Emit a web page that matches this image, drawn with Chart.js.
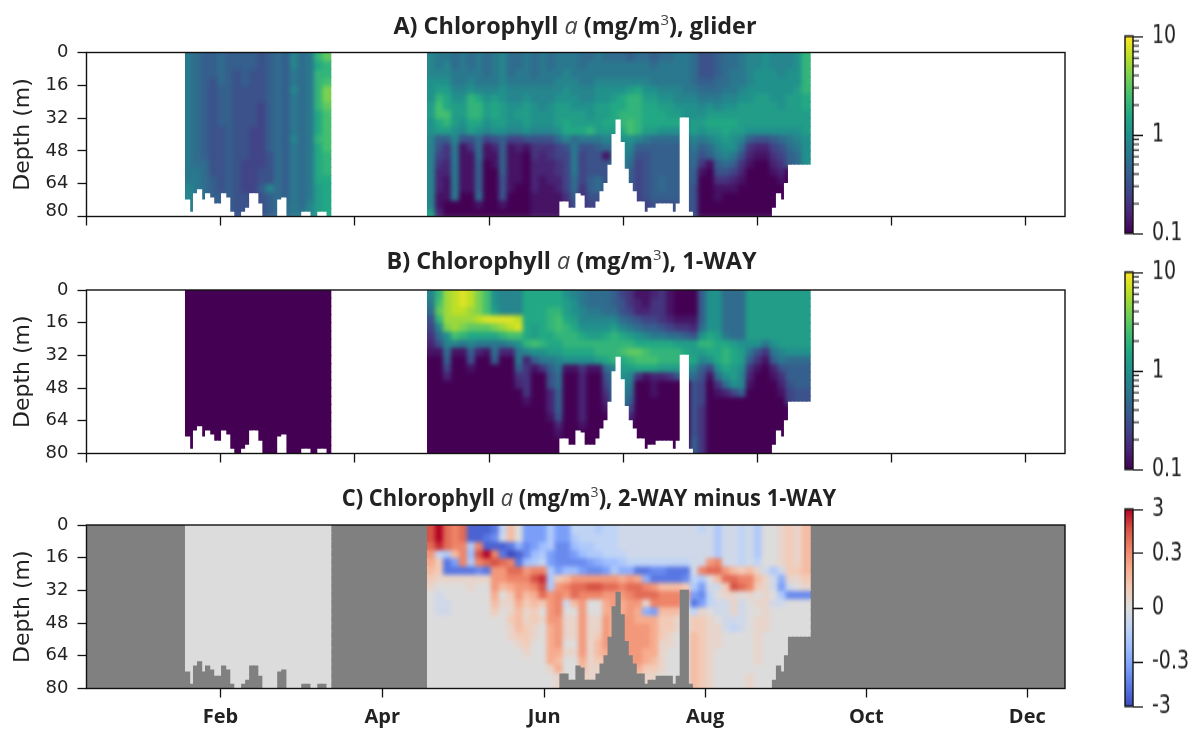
<!DOCTYPE html>
<html>
<head>
<meta charset="utf-8">
<script src="https://cdn.jsdelivr.net/npm/chart.js@4"></script>
<style>
    html, body { margin: 0; padding: 0; background: #fff; }
    body { position: relative; width: 1200px; height: 729px; overflow: hidden; }
    canvas { position: absolute; filter: blur(0.5px); }
    canvas.bar { transform: scaleY(1.35); transform-origin: top left; }
    .title { position: absolute; transform: translateX(-50%); font: bold 23.4px/30px "Open Sans", sans-serif; color: #222; white-space: nowrap; filter: blur(0.4px); }
    .title i { font-weight: 400; color: #444; }
    .title sup { font-size: 15px; font-weight: 400; line-height: 0; color: #444; }
</style>
</head>
<body>
<div class="title" style="left:575px;top:10px">A) Chlorophyll <i>a</i> (mg/m<sup>3</sup>), glider</div>
<div class="title" style="left:571.5px;top:245px">B) Chlorophyll <i>a</i> (mg/m<sup>3</sup>), 1-WAY</div>
<div class="title" style="left:588.5px;top:482px;transform:translateX(-50%) scaleX(0.936)">C) Chlorophyll <i>a</i> (mg/m<sup>3</sup>), 2-WAY minus 1-WAY</div>
<canvas id="panelA" width="1100" height="203" style="left:0;top:38px"></canvas>
<canvas id="panelB" width="1100" height="203" style="left:0;top:276px"></canvas>
<canvas id="panelC" width="1100" height="218" style="left:0;top:511px"></canvas>
<canvas id="barA" class="bar" width="85" height="170" style="left:1115px;top:19.8px"></canvas>
<canvas id="barB" class="bar" width="85" height="170" style="left:1115px;top:255.8px"></canvas>
<canvas id="barC" class="bar" width="85" height="170" style="left:1115px;top:492.8px"></canvas>
<script>
// depth bands are 4 m thick, rows run from the surface down
const depthTicks = [0, 16, 32, 48, 64, 80];
const bandDepths = [0, 4, 8, 12, 16, 20, 24, 28, 32, 36, 40, 44, 48, 52, 56, 60, 64, 68, 72, 76];
const xTicksTop = [0, 50.2, 100.4, 150.6, 200.8, 251, 301.2, 351.4];
const xTicksBottom = [50.1, 110.6, 171.2, 231.4, 291.7, 351.9];
const monthLabels = ["Feb", "Apr", "Jun", "Aug", "Oct", "Dec"];
const chlTicks = [0.1, 1, 10];
const chlMinorTicks = [0.2, 0.3, 0.4, 0.5, 0.6, 0.7, 0.8, 0.9, 2, 3, 4, 5, 6, 7, 8, 9];
const diffTicks = [-10, -5.5, 0, 5.5, 10];
const diffLabels = ["-3", "-0.3", "0", "0.3", "3"];

// chlorophyll: tenths of a decade above 0.1 mg/m3 (0 = 0.1, 10 = 1, 20 = 10)
const gliderWinter = [
    [8,7,6,6,7,6,6,6,6,5,6,7,6,9,7,8,13,15],
    [8,7,6,6,7,6,6,6,6,5,6,7,6,9,7,8,12,13],
    [8,7,6,6,7,6,5,6,5,5,6,7,6,8,7,8,13,13],
    [8,7,6,5,7,6,5,6,5,5,6,7,6,8,7,8,13,14],
    [8,7,6,5,6,6,5,5,5,5,6,7,6,9,7,8,13,16],
    [8,7,6,5,6,6,5,5,5,5,6,7,6,8,7,8,13,16],
    [8,7,6,5,6,6,5,5,5,4,6,7,6,8,7,8,13,15],
    [8,7,6,5,6,6,5,5,5,4,6,7,6,8,7,8,12,14],
    [8,7,6,5,6,6,5,5,5,4,6,7,6,8,7,8,12,14],
    [8,7,6,5,5,6,5,5,4,4,6,7,6,8,7,8,12,14],
    [8,7,6,5,5,6,5,5,4,4,6,7,6,9,7,8,13,14],
    [8,7,6,5,5,6,5,5,4,4,6,7,6,8,7,8,12,14],
    [8,7,6,5,5,6,5,5,4,4,5,7,6,8,7,8,12,13],
    [8,7,7,5,5,6,5,4,4,4,5,7,6,8,7,8,12,13],
    [8,8,7,5,5,6,5,4,4,5,5,7,6,8,7,8,12,13],
    [8,8,7,6,5,6,5,4,4,5,5,7,6,8,7,8,12,12],
    [9,8,7,6,5,6,5,4,4,6,9,7,6,8,7,8,11,12],
    [9,8,7,6,6,6,5,5,4,5,6,7,6,8,7,8,11,12],
    [9,8,7,6,6,6,5,5,5,5,6,7,7,8,7,9,11,12],
    [9,8,7,6,6,6,5,5,5,5,6,7,7,8,8,9,11,12]
];
const gliderSpring = [
    [9,8,8,7,8,7,8,7,8,9,7,7, 8,7,8,7,8,8,8,7,7,8,7,7, 7,6,7,7,6,7,7,8,8,7,5,5, 6,7,7,8,9,9,10,9,9,9,10,13],
    [9,8,9,7,8,7,8,7,8,9,7,7, 8,7,8,7,8,8,8,7,8,8,8,8, 8,8,8,8,7,8,8,8,8,7,5,5, 6,7,7,8,9,9,10,9,9,9,10,13],
    [9,9,9,8,8,8,8,7,8,9,7,8, 8,7,8,8,8,9,8,8,8,8,8,8, 8,8,8,8,8,8,8,8,8,7,5,5, 6,7,8,8,9,10,10,10,9,10,10,13],
    [10,10,10,8,8,9,8,8,8,9,8,8, 8,8,8,8,9,9,9,8,8,9,9,9, 9,9,9,9,8,8,8,8,8,7,6,6, 7,7,8,8,9,10,10,10,10,10,10,13],
    [10,11,11,9,9,10,9,9,9,10,9,9, 9,9,9,9,9,10,9,9,9,10,10,10, 10,11,12,10,10,9,9,9,8,8,7,7, 7,8,8,9,10,10,10,10,10,10,11,13],
    [10,13,12,10,10,13,12,10,11,10,9,9, 10,9,9,9,10,10,10,9,9,10,10,11, 12,13,13,11,11,10,10,9,9,9,8,8, 8,9,9,10,10,11,11,10,10,11,11,12],
    [11,14,12,11,11,13,13,11,12,11,10,10, 11,10,9,10,11,11,10,10,10,11,11,12, 12,13,13,12,12,11,11,10,10,10,9,10, 9,10,10,11,11,11,11,11,10,11,11,12],
    [11,14,14,11,11,13,13,11,12,11,10,11, 11,10,10,10,11,11,11,11,10,11,11,12, 13,13,13,12,12,12,11,11,10,10,10,11, 11,11,11,11,11,11,11,11,11,11,11,11],
    [10,12,13,11,10,12,12,10,11,11,10,10, 11,10,10,10,11,12,11,11,11,11,12,12, 13,14,13,12,12,12,12,12,10,11,11,12, 12,12,12,11,11,11,11,11,11,11,11,11],
    [10,11,11,10,9,11,10,9,10,10,9,9, 10,9,9,9,10,12,12,12,13,11,11,11, 12,14,13,11,11,10,10,10,10,11,10,11, 11,12,11,11,10,10,10,10,10,10,10,11],
    [9,6,6,9,5,5,7,4,5,6,4,4, 5,5,5,5,7,9,7,8,8,8,9,8, 10,10,9,8,7,7,7,7,7,9,8,9, 10,11,10,9,6,5,5,6,7,8,9,10],
    [9,5,3,8,1,3,7,1,2,6,1,2, 1,3,3,3,4,5,8,5,5,6,7,7, 9,9,6,6,6,6,6,6,6,8,6,7, 9,10,10,7,3,2,2,4,5,7,8,10],
    [9,4,3,8,1,1,7,1,1,6,1,1, 0,3,2,3,4,4,8,4,5,5,1,7, 9,8,5,5,6,6,6,6,6,7,5,6, 8,9,8,5,2,1,1,3,4,6,7,10],
    [9,3,2,8,1,1,6,0,1,6,1,1, 0,2,2,2,3,4,8,4,5,5,5,7, 9,7,4,5,6,6,6,6,6,7,3,1, 6,7,6,3,1,0,0,2,3,6,7,10],
    [9,2,2,8,1,1,6,0,0,6,1,1, 0,2,2,2,3,4,8,4,5,5,5,7, 9,6,4,5,6,6,6,6,6,6,1,0, 5,5,4,2,0,0,0,1,2,0,0,0],
    [9,2,1,8,1,1,6,0,0,5,1,1, 0,2,1,2,2,4,7,4,6,7,5,7, 8,6,4,5,6,7,6,6,6,6,0,0, 3,3,2,1,0,0,0,0,1,0,0,0],
    [9,2,1,8,1,1,6,0,0,5,1,0, 0,2,1,1,2,4,7,3,6,7,5,7, 5,6,4,5,6,7,6,6,6,5,0,0, 1,1,1,0,0,0,0,0,0,0,0,0],
    [9,1,1,8,0,0,7,0,0,5,0,0, 0,1,1,1,1,3,6,3,5,5,5,7, 5,5,4,5,6,6,6,6,6,5,0,0, 1,0,0,0,0,0,0,0,0,0,0,0],
    [9,1,0,0,0,0,1,0,0,1,0,0, 0,1,1,1,1,2,5,3,4,4,5,7, 5,5,4,4,5,5,5,5,5,5,0,0, 0,0,0,0,0,0,0,0,0,0,0,0],
    [11,2,0,0,0,0,0,0,0,0,0,0, 0,1,1,1,1,2,5,3,4,4,5,7, 5,5,4,4,5,5,5,5,5,5,0,0, 0,0,0,0,0,0,0,0,0,0,0,0]
];
const modelWinter = [0,0,0,0,0,0,0,0,0,0,0,0,0,0,0,0,0,0];
const oneWaySpring = [
    [9,13,17,18,19,18,16,14,10,9,9,9, 12,12,12,12,12,10,9,8,7,7,7,6, 4,3,1,1,2,3,1,0,0,0,6,10, 10,7,7,7,11,11,11,11,11,11,11,11],
    [8,14,17,18,19,18,16,14,10,9,9,9, 12,12,12,12,12,11,10,8,7,7,7,6, 5,3,2,1,3,3,1,0,0,0,6,10, 10,7,7,7,11,11,11,11,11,11,11,11],
    [7,15,17,18,18,17,16,14,11,9,9,9, 12,12,12,13,13,11,10,9,8,8,7,7, 5,4,2,2,3,3,1,0,0,0,6,10, 10,7,7,7,11,11,11,11,11,11,11,11],
    [5,13,17,17,17,17,18,19,19,19,19,18, 12,12,12,13,14,12,11,9,9,9,9,9, 7,6,5,4,4,3,2,1,1,1,6,10, 10,7,7,7,11,11,11,11,11,11,11,11],
    [4,9,16,17,16,15,15,15,16,17,18,19, 12,11,12,13,14,13,12,10,10,10,10,11, 9,8,7,6,6,5,4,3,3,2,7,10, 10,7,7,7,11,11,11,11,11,11,11,11],
    [3,7,10,14,13,12,12,12,12,13,14,14, 12,11,12,12,13,13,13,12,11,11,12,13, 12,11,10,9,8,8,7,7,6,5,10,12, 11,8,7,7,11,11,11,11,11,11,11,11],
    [2,5,9,9,8,9,8,8,8,8,9,10, 13,14,13,12,12,13,13,13,13,13,13,13, 13,13,12,12,12,12,12,11,11,11,13,13, 12,12,11,10,10,10,8,10,11,11,11,11],
    [1,1,7,1,1,6,2,1,7,2,2,8, 9,10,10,11,11,12,12,12,12,13,13,13, 14,15,15,14,13,13,13,13,12,11,11,12, 12,13,12,11,8,5,3,8,9,10,10,10],
    [0,0,6,0,0,5,0,0,6,0,0,8, 2,6,8,8,9,10,10,10,10,11,12,13, 12,13,14,14,14,13,13,13,12,12,9,10, 12,13,12,11,6,3,1,6,8,7,7,7],
    [0,0,4,0,0,1,0,0,0,0,0,6, 3,1,3,6,8,1,1,3,1,1,7,9, 11,11,12,12,12,11,11,11,10,9,6,4, 10,12,11,10,3,1,0,2,5,6,6,6],
    [0,0,2,0,0,0,0,0,0,0,0,3, 3,0,0,5,7,0,0,2,0,0,5,8, 10,9,3,1,2,2,3,5,7,7,5,1, 7,10,11,9,2,0,0,1,3,6,6,6],
    [0,0,0,0,0,0,0,0,0,0,0,2, 3,0,0,5,7,0,0,2,0,0,4,8, 10,8,0,0,1,0,0,0,0,5,4,0, 3,7,10,9,1,0,0,0,2,5,6,6],
    [0,0,0,0,0,0,0,0,0,0,0,0, 3,0,0,2,6,0,0,2,0,0,3,8, 9,7,0,0,1,0,0,0,0,5,4,0, 1,2,4,6,0,0,0,0,1,4,5,5],
    [0,0,0,0,0,0,0,0,0,0,0,0, 1,0,0,2,6,0,0,2,0,0,2,8, 8,6,0,0,0,0,0,0,0,5,4,0, 0,0,0,0,0,0,0,0,0,4,5,5],
    [0,0,0,0,0,0,0,0,0,0,0,0, 0,0,0,2,6,0,0,2,0,0,1,7, 7,4,0,0,0,0,0,0,0,5,3,0, 0,0,0,0,0,0,0,0,0,0,0,0],
    [0,0,0,0,0,0,0,0,0,0,0,0, 0,0,0,1,5,0,0,2,0,0,0,5, 5,2,0,0,0,0,0,0,0,5,3,0, 0,0,0,0,0,0,0,0,0,0,0,0],
    [0,0,0,0,0,0,0,0,0,0,0,0, 0,0,0,0,2,0,0,1,0,0,0,0, 0,0,0,0,0,0,0,0,0,5,3,0, 0,0,0,0,0,0,0,0,0,0,0,0],
    [0,0,0,0,0,0,0,0,0,0,0,0, 0,0,0,0,1,0,0,0,0,0,0,0, 0,0,0,0,0,0,0,0,0,5,3,0, 0,0,0,0,0,0,0,0,0,0,0,0],
    [0,0,0,0,0,0,0,0,0,0,0,0, 0,0,0,0,0,0,0,0,0,0,0,0, 0,0,0,0,0,0,0,0,0,6,3,0, 0,0,0,0,0,0,0,0,0,0,0,0],
    [0,0,0,0,0,0,0,0,0,0,0,0, 0,0,0,0,0,0,0,0,0,0,0,0, 0,0,0,0,0,0,0,0,0,6,3,0, 0,0,0,0,0,0,0,0,0,0,0,0]
];
// difference: colorbar steps, 0 = none, 5.5 = 0.3, 10 = 3 (negative the same)
const diffSpring = [
    [8,10,7,6,7,-9,-9,-9,-8,-2,3,0, -6,-6,-6,-3,-6,-6,-2,-2,-2,-3,-2,-2, -1,-1,-1,-1,-1,-1,-1,-1,-1,-1,-2,-1, -3,-1,-1,-2,-1,-3,0,0,1,2,1,3],
    [8,10,7,6,7,-9,-9,-8,-7,-1,3,0, -6,-6,-6,-3,-6,-6,-3,-2,-2,-2,-2,-2, -1,-1,-1,-1,-1,-1,-1,-1,-1,-1,-1,-1, -3,-1,-1,-2,-1,-3,0,0,1,2,1,3],
    [7,9,7,6,6,-3,6,-9,-9,-9,-8,-5, -7,-6,-4,-3,-7,-7,-4,-3,-3,-2,-2,-2, -1,-1,-1,-1,-1,-1,-1,-1,-1,-1,-1,-1, -3,-1,-1,-2,-1,-3,0,0,1,2,1,3],
    [5,-2,-3,3,6,-4,8,10,6,-8,-10,-9, -7,-4,-3,-6,-7,-7,-6,-4,-3,-3,-2,-2, -2,-1,-1,-1,-1,-1,-1,-1,-1,-1,-1,-1, -3,-1,-1,-2,-1,-3,0,0,1,2,1,3],
    [4,2,-8,-6,6,-3,6,7,8,7,6,-8, -4,-3,-2,-6,-7,-7,-7,-7,-6,-5,-4,-4, -3,-2,-2,-2,-2,-2,-2,-2,-2,-1,-1,5, 6,-1,-1,-2,-1,-2,0,0,1,2,1,3],
    [3,2,-8,-8,-8,-8,-7,-8,5,5,7,7, 5,6,6,-3,-6,-4,-4,-6,-7,-7,-6,-3, -5,-5,-8,-8,-7,-7,-8,-8,-8,-1,6,7, 7,5,3,2,3,1,-1,-3,-1,2,2,3],
    [2,1,1,1,1,1,1,1,5,5,6,6, 6,8,9,-3,2,3,5,5,5,5,5,5, 4,5,4,-5,-8,-8,-8,-8,-7,-2,-3,0, 3,7,7,6,6,3,1,-1,-5,1,1,2],
    [1,0,0,0,0,1,0,0,5,3,4,5, 5,6,8,-3,5,6,7,7,8,8,7,7, 6,7,7,6,5,3,3,3,2,-3,-6,-1, -1,2,8,7,6,2,1,-1,-6,-1,0,1],
    [0,-1,0,0,0,0,0,0,4,0,2,5, 3,4,7,5,6,5,7,6,6,6,5,5, 5,6,7,7,7,6,6,6,5,-6,-7,-2, 0,1,1,0,1,0,1,0,-3,-7,-7,-7],
    [0,-1,-1,0,0,0,0,0,3,1,1,4, 2,3,2,5,6,-1,3,5,0,0,4,5, 4,5,5,1,6,6,6,6,0,-8,-6,-2, -1,-1,1,-1,0,1,1,-1,-1,0,0,0],
    [0,-1,-1,0,0,0,0,0,2,0,1,3, 1,2,0,5,6,0,0,5,0,0,4,4, 4,5,4,-5,-6,3,3,3,0,-2,1,0, -1,-1,1,-1,0,0,1,0,0,0,0,0],
    [0,0,0,0,0,0,0,0,0,0,2,3, 1,2,1,5,5,1,1,5,1,1,5,3, 5,5,4,4,4,2,2,1,0,2,2,1, 0,-1,-1,-1,0,1,1,0,0,0,0,0],
    [0,0,0,0,0,0,0,0,0,0,1,3, 2,1,0,4,5,1,1,5,1,1,5,3, 5,5,5,5,4,2,2,1,0,2,2,1, 1,-1,-2,-1,0,1,1,0,0,0,0,0],
    [0,0,0,0,0,0,0,0,0,0,1,2, 2,1,0,4,5,1,1,5,1,2,5,3, 5,5,5,5,4,2,1,0,0,3,2,1, 1,0,0,0,0,1,0,0,0,0,0,0],
    [0,0,0,0,0,0,0,0,0,0,0,1, 2,0,0,4,5,0,0,5,1,3,5,3, 5,5,5,5,4,1,1,0,0,3,2,1, 1,0,0,0,0,1,0,0,0,0,0,0],
    [0,0,0,0,0,0,0,0,0,0,0,0, 1,0,0,4,4,1,1,5,1,3,4,3, 5,5,5,4,4,1,0,0,0,3,2,1, 0,0,0,0,0,1,0,0,0,0,0,0],
    [0,0,0,0,0,0,0,0,0,0,0,0, 0,0,0,4,3,0,0,4,1,2,3,3, 5,5,5,4,3,1,0,0,0,3,2,1, 0,0,0,0,0,1,0,0,0,0,0,0],
    [0,0,0,0,0,0,0,0,0,0,0,0, 0,0,0,1,4,0,0,3,1,1,1,3, 3,4,4,2,2,1,0,0,0,3,2,1, 0,0,0,0,0,0,0,0,0,0,0,0],
    [0,0,0,0,0,0,0,0,0,0,0,0, 0,0,0,0,1,0,0,1,1,1,1,1, 1,2,2,1,1,0,0,0,0,3,2,1, 0,0,0,0,1,0,0,0,0,0,0,0],
    [0,0,0,0,0,0,0,0,0,0,0,0, 0,0,0,0,1,0,0,1,1,1,1,1, 1,2,2,1,1,0,0,0,0,3,2,1, 0,0,0,0,1,0,0,0,0,0,0,0]
];
const modelDiffWinter = [0,0,0,0,0,0,0,0,0,0,0,0,0,0,0,0,0,0];

// deepest sampled depth (m), one entry per 1.5 days
const floorWinter = [72,78,69,67,72,69,71,74,74,69,71,78,80,80,78,76,69,69,74,80,80,80,80,72,71,80,80,80,80,78,78,80,80,78,78,80,80];
const floorSpring = [
    80,80,80,80,80,80,80,80,80,80,80,80,80,80,80,80,80,80,80,80,80,80,80,80,80,80,80,80,80,80,80,80,80,
    73,73,76,76,69,70,76,76,76,73,68,64,55,40,33,44,57,64,68,73,73,78,76,76,74,74,74,74,78,74,32,32,78,
    80,80,80,80,80,80,80,80,80,80,80,80,80,80,80,80,80,80,80,80,
    76,69,72,64,55,55,55,55,55,55
];

const viridisStops = ["#440154","#482475","#414487","#355f8d","#2a788e","#21918c","#22a884","#44bf70","#7ad151","#bddf26","#fde725"];
const coolwarmStops = ["#3b4cc0","#5977e3","#7b9ff9","#9ebeff","#c0d4f5","#dddcdc","#f2cbb7","#f7ac8e","#ee8468","#d65244","#b40426"];

const WINTER_START = 37.05, SPRING_START = 127.6, WINTER_STEP = 3.017, SPRING_STEP = 2.98, FLOOR_STEP = 1.5;
const CELL_PX = 8.02, FLOOR_PX = 4.02;
const AXIS_FONT = "'DejaVu Sans', sans-serif";

function mixStops(stops, t) {
    const pos = Math.max(0, Math.min(1, t)) * (stops.length - 1);
    const i = Math.min(Math.floor(pos), stops.length - 2);
    const f = pos - i;
    const a = parseInt(stops[i].slice(1), 16), b = parseInt(stops[i + 1].slice(1), 16);
    const c = s => Math.round(((a >> s) & 255) * (1 - f) + ((b >> s) & 255) * f);
    return `rgb(${c(16)},${c(8)},${c(0)})`;
}
const chlColor = level => mixStops(viridisStops, level / 20);
const diffColor = level => mixStops(coolwarmStops, (level + 10) / 20);

function bandDataset(rowIndex, winterRow, springRow, colorFor) {
    const points = [], colors = [];
    const top = bandDepths[rowIndex];
    const bottom = top + 4;
    winterRow.forEach((level, k) => {
        points.push({ x: WINTER_START + (k + 0.5) * WINTER_STEP, y: [top, bottom] });
        colors.push(colorFor(level));
    });
    springRow.forEach((level, k) => {
        points.push({ x: SPRING_START + (k + 0.5) * SPRING_STEP, y: [top, bottom] });
        colors.push(colorFor(level));
    });
    return {
        data: points, backgroundColor: colors, borderWidth: 0, inflateAmount: 0.6,
        barThickness: CELL_PX, stack: "cells", order: 1
    };
}

function floorDataset(color) {
    const points = [];
    floorWinter.forEach((d, i) => {
        if (d < 80) points.push({ x: WINTER_START + (i + 0.5) * FLOOR_STEP, y: [d, 80] });
    });
    floorSpring.forEach((d, i) => {
        if (d < 80) points.push({ x: SPRING_START + (i + 0.5) * FLOOR_STEP, y: [d, 80] });
    });
    return { data: points, backgroundColor: color, borderWidth: 0, inflateAmount: 0.6, barThickness: FLOOR_PX, stack: "cells", order: 0 };
}

const framePlugin = {
    id: "frame",
    beforeDatasetsDraw(chart, args, opts) {
        if (!opts.fill) return;
        const a = chart.chartArea;
        chart.ctx.fillStyle = opts.fill;
        chart.ctx.fillRect(a.left, a.top, a.width, a.height);
    },
    afterDatasetsDraw(chart) {
        const a = chart.chartArea;
        chart.ctx.strokeStyle = "#111";
        chart.ctx.lineWidth = 1.4;
        chart.ctx.strokeRect(a.left, a.top, a.width, a.height);
    }
};

// soften the cells before the floor mask goes on top, the reference field is interpolated
const smoothPlugin = {
    id: "smooth",
    afterDatasetDraw(chart, args) {
        if (args.index !== 1) return;
        const ctx = chart.ctx, canvas = chart.canvas, a = chart.chartArea, x = chart.scales.x;
        const spans = [[WINTER_START, WINTER_START + 18 * WINTER_STEP], [SPRING_START, SPRING_START + 48 * SPRING_STEP]];
        spans.forEach(([d0, d1]) => {
            const x0 = Math.round(x.getPixelForValue(d0)), x1 = Math.round(x.getPixelForValue(d1));
            const y0 = Math.ceil(a.top), h = Math.floor(a.height), w = x1 - x0, m = 10;
            const off = document.createElement("canvas");
            off.width = w + 2 * m;
            off.height = h + 2 * m;
            const o = off.getContext("2d");
            o.drawImage(canvas, x0, y0, w, h, m, m, w, h);
            o.drawImage(canvas, x0 + 1, y0, 1, h, 0, m, m, h);
            o.drawImage(canvas, x1 - 2, y0, 1, h, m + w, m, m, h);
            o.drawImage(off, 0, m, w + 2 * m, 1, 0, 0, w + 2 * m, m);
            o.drawImage(off, 0, m + h - 1, w + 2 * m, 1, 0, m + h, w + 2 * m, m);
            ctx.save();
            ctx.beginPath();
            ctx.rect(x0, y0, w, h);
            ctx.clip();
            ctx.filter = "blur(2px)";
            ctx.drawImage(off, x0 - m, y0 - m);
            ctx.restore();
        });
    }
};

function initPanel(id, winterRows, springRows, colorFor, opts) {
    const datasets = [floorDataset(opts.floorColor)];
    springRows.forEach((row, r) => {
        datasets.push(bandDataset(r, Array.isArray(winterRows[0]) ? winterRows[r] : winterRows, row, colorFor));
    });
    new Chart(document.getElementById(id), {
        type: "bar",
        data: { datasets },
        plugins: [framePlugin, smoothPlugin],
        options: {
            responsive: false,
            animation: false,
            layout: { padding: { top: opts.padTop, right: 35, left: 0, bottom: 0 } },
            plugins: { legend: { display: false }, tooltip: { enabled: false }, frame: { fill: opts.fill } },
            scales: {
                x: {
                    type: "linear", min: 0, max: 366, offset: false,
                    grid: { offset: false, drawOnChartArea: false, tickLength: 9, tickColor: "#111", tickWidth: 1.3 },
                    border: { display: false },
                    afterBuildTicks: s => { s.ticks = opts.xTicks.map(value => ({ value })); },
                    afterFit: s => { s.height = opts.bottomSpace; },
                    ticks: {
                        autoSkip: false, maxRotation: 0, padding: 8, color: "#222",
                        font: { family: "'Open Sans', sans-serif", weight: "bold", size: 20 },
                        callback: value => {
                            const i = opts.xTicks.indexOf(value);
                            return opts.xLabels ? opts.xLabels[i] : "";
                        }
                    }
                },
                y: {
                    type: "linear", min: 0, max: 80, reverse: true, stacked: false,
                    grid: { drawOnChartArea: false, tickLength: 9, tickColor: "#111", tickWidth: 1.3 },
                    border: { display: false },
                    afterBuildTicks: s => { s.ticks = depthTicks.map(value => ({ value })); },
                    afterFit: s => { s.width = 86.5; s.paddingTop = 0; s.paddingBottom = 0; },
                    ticks: {
                        padding: 9, color: "#222", font: { family: AXIS_FONT, size: 18, lineHeight: 0.6 },
                        // the top panel has its 80 pushed up off the axis corner
                        callback: value => (opts.liftLast && value === 80) ? [String(value), ""] : String(value)
                    },
                    title: { display: true, text: "Depth (m)", color: "#222", padding: { top: 10, bottom: 0 }, font: { family: AXIS_FONT, size: 22 } }
                }
            }
        }
    });
}

const minorTickPlugin = {
    id: "minorTicks",
    afterDatasetsDraw(chart, args, opts) {
        const ctx = chart.ctx, a = chart.chartArea, y = chart.scales.y;
        ctx.strokeStyle = "#111";
        ctx.lineWidth = 1;
        (opts.values || []).forEach(v => {
            const py = y.getPixelForValue(v);
            ctx.beginPath();
            ctx.moveTo(a.right, py);
            ctx.lineTo(a.right + 6, py);
            ctx.stroke();
        });
    }
};

function initColorbar(id, stops, yScale, minor) {
    new Chart(document.getElementById(id), {
        type: "bar",
        data: {
            labels: [""],
            datasets: [{
                data: [[yScale.min, yScale.max]],
                borderWidth: 0, inflateAmount: 0, categoryPercentage: 1, barPercentage: 1,
                backgroundColor: c => {
                    const a = c.chart.chartArea;
                    if (!a) return stops[0];
                    const g = c.chart.ctx.createLinearGradient(0, a.bottom, 0, a.top);
                    stops.forEach((s, i) => g.addColorStop(i / (stops.length - 1), s));
                    return g;
                }
            }]
        },
        plugins: [framePlugin, minorTickPlugin],
        options: {
            responsive: false,
            animation: false,
            layout: { padding: { top: 12, bottom: 12, left: 10, right: 0 } },
            plugins: { legend: { display: false }, tooltip: { enabled: false }, minorTicks: { values: minor } },
            scales: {
                x: { display: false },
                y: Object.assign({
                    position: "right",
                    grid: { drawOnChartArea: false, tickLength: 10, tickColor: "#111", tickWidth: 1 },
                    border: { display: false },
                    afterFit: s => { s.width = 67; s.paddingTop = 0; s.paddingBottom = 0; }
                }, yScale)
            }
        }
    });
}

function chlAxis() {
    return {
        type: "logarithmic", min: 0.1, max: 10,
        afterBuildTicks: s => { s.ticks = chlTicks.map(value => ({ value })); },
        ticks: { padding: 9, color: "#222", font: { family: AXIS_FONT, size: 19 }, callback: v => String(v) }
    };
}
function diffAxis() {
    return {
        type: "linear", min: -10, max: 10,
        afterBuildTicks: s => { s.ticks = diffTicks.map(value => ({ value })); },
        ticks: { padding: 9, color: "#222", font: { family: AXIS_FONT, size: 19 }, callback: v => diffLabels[diffTicks.indexOf(v)] }
    };
}

initPanel("panelA", gliderWinter, gliderSpring, chlColor, { floorColor: "#ffffff", fill: "#ffffff", xTicks: xTicksTop, bottomSpace: 24.5, padTop: 14.5, liftLast: true });
initPanel("panelB", modelWinter, oneWaySpring, chlColor, { floorColor: "#ffffff", fill: "#ffffff", xTicks: xTicksTop, bottomSpace: 25.5, padTop: 14 });
initPanel("panelC", modelDiffWinter, diffSpring, diffColor, { floorColor: "#808080", fill: "#808080", xTicks: xTicksBottom, xLabels: monthLabels, bottomSpace: 40.5, padTop: 14 });
initColorbar("barA", viridisStops, chlAxis(), chlMinorTicks);
initColorbar("barB", viridisStops, chlAxis(), chlMinorTicks);
initColorbar("barC", coolwarmStops, diffAxis(), []);
</script>
</body>
</html>
